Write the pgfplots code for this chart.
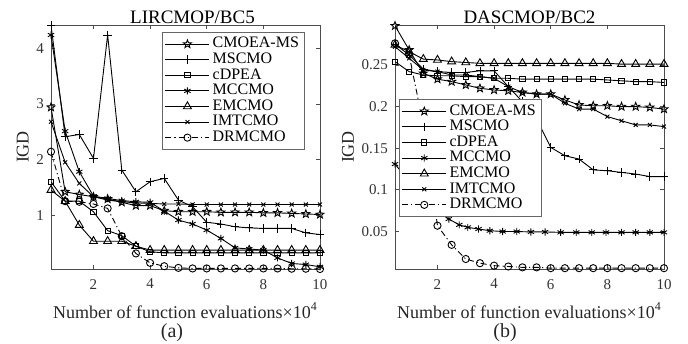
\documentclass[border=0pt]{standalone}
\usepackage{fontspec}
\setmainfont{Liberation Serif}
\usepackage{pgfplots}
\pgfplotsset{compat=1.18}
\usetikzlibrary{plotmarks}

\pgfdeclareplotmark{pentagram}{%
  \pgfpathmoveto{\pgfpointpolar{90}{\pgfplotmarksize}}%
  \pgfpathlineto{\pgfpointpolar{126}{0.42\pgfplotmarksize}}%
  \pgfpathlineto{\pgfpointpolar{162}{\pgfplotmarksize}}%
  \pgfpathlineto{\pgfpointpolar{198}{0.42\pgfplotmarksize}}%
  \pgfpathlineto{\pgfpointpolar{234}{\pgfplotmarksize}}%
  \pgfpathlineto{\pgfpointpolar{270}{0.42\pgfplotmarksize}}%
  \pgfpathlineto{\pgfpointpolar{306}{\pgfplotmarksize}}%
  \pgfpathlineto{\pgfpointpolar{342}{0.42\pgfplotmarksize}}%
  \pgfpathlineto{\pgfpointpolar{18}{\pgfplotmarksize}}%
  \pgfpathlineto{\pgfpointpolar{54}{0.42\pgfplotmarksize}}%
  \pgfpathclose\pgfusepathqstroke}

\pgfplotsset{
  common/.style={
    scale only axis, width=134.5pt, height=122pt,
    xmin=0.5, xmax=10, xtick={2,4,6,8,10},
    tick align=inside, tick pos=both, major tick length=2pt,
    axis line style={black!70, line width=0.4pt},
    tick style={black!70, line width=0.4pt},
    ticklabel style={font=\fontsize{7.5}{8}\selectfont, black!80},
    xticklabel style={yshift=-1.5pt},
    /pgf/number format/assume math mode=true,
    label style={font=\fontsize{9}{10}\selectfont, black!85},
    title style={font=\fontsize{9.5}{10}\selectfont, yshift=-9pt},
    xlabel={Number of function evaluations×10\textsuperscript{4}},
    ylabel={IGD},
    ylabel style={yshift=-3pt},
    legend cell align=left,
    legend style={font=\fontsize{8}{8}\selectfont, draw=black!60, fill=white,
      line width=0.4pt, inner sep=1.2pt, row sep=-1.8pt,
      nodes={inner sep=1.4pt}},
    legend image code/.code={\draw[mark repeat=2,mark phase=2] plot coordinates {(0pt,0pt)(11pt,0pt)(22pt,0pt)};},
  },
  pl/.style={black, line width=0.45pt, mark options={solid, black}},
  sCMOEA/.style={pl, mark=pentagram, mark size=2.1pt},
  sMSCMO/.style={pl, mark=+, mark size=2.1pt},
  scDPEA/.style={pl, mark=square, mark size=1.3pt},
  sMCCMO/.style={pl, mark=asterisk, mark size=1.8pt},
  sEMCMO/.style={pl, mark=triangle, mark size=2.3pt},
  sIMTCMO/.style={pl, mark=x, mark size=1.4pt},
  sDRMCMO/.style={pl, mark=o, mark size=1.8pt, dash pattern=on 3pt off 1.5pt on 0.6pt off 1.5pt},
}

\begin{document}
\begin{tikzpicture}
\useasboundingbox (0,0) rectangle (344pt,171.5pt);

% ---------------- (a) LIRCMOP/BC5 ----------------
\begin{axis}[common,
  at={(25.5pt,37pt)}, anchor=south west,
  ymin=0.03, ymax=4.42, ytick={1,2,3,4},
  title={LIRCMOP/BC5},
  title style={xshift=3.5pt},
  legend style={at={(0.9425,0.9725)}, anchor=north east},
]
\addplot[sCMOEA] coordinates {(0.5,2.94)(1,1.42)(1.5,1.37)(2,1.33)(2.5,1.29)(3,1.23)(3.5,1.17)(4,1.17)(4.5,1.08)(5,1.06)(5.5,1.06)(6,1.06)(6.5,1.05)(7,1.05)(7.5,1.05)(8,1.04)(8.5,1.04)(9,1.03)(9.5,1.02)(10,1.01)};
\addlegendentry{CMOEA-MS}
\addplot[sMSCMO] coordinates {(0.5,4.42)(1,2.41)(1.5,2.45)(2,2.02)(2.5,4.24)(3,1.81)(3.5,1.42)(4,1.60)(4.5,1.66)(5,1.27)(5.5,1.15)(6,0.87)(6.5,0.84)(7,0.79)(7.5,0.77)(8,0.76)(8.5,0.76)(9,0.76)(9.5,0.68)(10,0.65)};
\addlegendentry{MSCMO}
\addplot[scDPEA] coordinates {(0.5,1.60)(1,1.25)(1.5,1.25)(2,1.06)(2.5,0.72)(3,0.63)(3.5,0.44)(4,0.34)(4.5,0.32)(5,0.32)(5.5,0.32)(6,0.32)(6.5,0.32)(7,0.32)(7.5,0.32)(8,0.32)(8.5,0.32)(9,0.32)(9.5,0.32)(10,0.32)};
\addlegendentry{cDPEA}
\addplot[sMCCMO] coordinates {(0.5,4.24)(1,2.51)(1.5,1.78)(2,1.34)(2.5,1.30)(3,1.26)(3.5,1.24)(4,1.23)(4.5,1.07)(5,0.91)(5.5,0.84)(6,0.73)(6.5,0.58)(7,0.41)(7.5,0.39)(8,0.37)(8.5,0.23)(9,0.13)(9.5,0.11)(10,0.07)};
\addlegendentry{MCCMO}
\addplot[sEMCMO] coordinates {(0.5,1.45)(1,1.25)(1.5,0.82)(2,0.53)(2.5,0.53)(3,0.53)(3.5,0.44)(4,0.37)(4.5,0.37)(5,0.37)(5.5,0.37)(6,0.37)(6.5,0.37)(7,0.37)(7.5,0.37)(8,0.37)(8.5,0.37)(9,0.37)(9.5,0.37)(10,0.37)};
\addlegendentry{EMCMO}
\addplot[sIMTCMO] coordinates {(0.5,2.68)(1,1.95)(1.5,1.57)(2,1.33)(2.5,1.27)(3,1.24)(3.5,1.22)(4,1.21)(4.5,1.20)(5,1.20)(5.5,1.19)(6,1.19)(6.5,1.19)(7,1.19)(7.5,1.19)(8,1.19)(8.5,1.19)(9,1.19)(9.5,1.19)(10,1.19)};
\addlegendentry{IMTCMO}
\addplot[sDRMCMO] coordinates {(0.5,2.14)(1,1.25)(1.5,1.24)(2,1.20)(2.5,1.12)(3,0.62)(3.5,0.31)(4,0.14)(4.5,0.08)(5,0.05)(5.5,0.04)(6,0.04)(6.5,0.04)(7,0.04)(7.5,0.04)(8,0.04)(8.5,0.04)(9,0.035)(9.5,0.035)(10,0.03)};
\addlegendentry{DRMCMO}
\end{axis}

% ---------------- (b) DASCMOP/BC2 ----------------
\begin{axis}[common,
  at={(197.5pt,37pt)}, anchor=south west,
  ymin=0.005, ymax=0.298,
  ytick={0.05,0.1,0.15,0.2,0.25}, yticklabels={0.05,0.1,0.15,0.2,0.25},
  title={DASCMOP/BC2},
  legend style={at={(0.015,0.697)}, anchor=north west},
]
\addplot[sCMOEA] coordinates {(0.5,0.297)(1,0.268)(1.5,0.240)(2,0.233)(2.5,0.230)(3,0.226)(3.5,0.222)(4,0.220)(4.5,0.219)(5,0.217)(5.5,0.215)(6,0.215)(6.5,0.208)(7,0.202)(7.5,0.201)(8,0.201)(8.5,0.200)(9,0.200)(9.5,0.199)(10,0.197)};
\addlegendentry{CMOEA-MS}
\addplot[sMSCMO] coordinates {(0.5,0.275)(1,0.262)(1.5,0.245)(2,0.242)(2.5,0.241)(3,0.241)(3.5,0.243)(4,0.243)(4.5,0.224)(5,0.206)(5.5,0.185)(6,0.151)(6.5,0.141)(7,0.137)(7.5,0.124)(8,0.123)(8.5,0.121)(9,0.119)(9.5,0.116)(10,0.116)};
\addlegendentry{MSCMO}
\addplot[scDPEA] coordinates {(0.5,0.254)(1,0.242)(1.5,0.238)(2,0.237)(2.5,0.237)(3,0.236)(3.5,0.236)(4,0.234)(4.5,0.234)(5,0.233)(5.5,0.233)(6,0.233)(6.5,0.233)(7,0.233)(7.5,0.233)(8,0.232)(8.5,0.231)(9,0.230)(9.5,0.230)(10,0.229)};
\addlegendentry{cDPEA}
\addplot[sMCCMO] coordinates {(0.5,0.131)(1,0.11)(1.5,0.09)(2,0.075)(2.4,0.065)(2.77,0.058)(3.07,0.055)(3.45,0.053)(3.85,0.051)(4.3,0.050)(4.8,0.050)(5.3,0.0495)(5.8,0.0495)(6.35,0.049)(6.9,0.049)(7.45,0.049)(7.95,0.049)(8.5,0.049)(9,0.049)(9.5,0.049)(10,0.049)};
\addlegendentry{MCCMO}
\addplot[sEMCMO] coordinates {(0.5,0.274)(1,0.266)(1.5,0.257)(2,0.256)(2.5,0.254)(3,0.253)(3.5,0.252)(4,0.252)(4.5,0.252)(5,0.252)(5.5,0.252)(6,0.252)(6.5,0.252)(7,0.252)(7.5,0.252)(8,0.252)(8.5,0.251)(9,0.251)(9.5,0.251)(10,0.251)};
\addlegendentry{EMCMO}
\addplot[sIMTCMO] coordinates {(0.5,0.272)(1,0.258)(1.5,0.244)(2,0.242)(2.5,0.238)(3,0.238)(3.5,0.236)(4,0.234)(4.5,0.224)(5,0.217)(5.5,0.215)(6,0.215)(6.5,0.204)(7,0.197)(7.5,0.197)(8,0.188)(8.5,0.183)(9,0.178)(9.5,0.178)(10,0.176)};
\addlegendentry{IMTCMO}
\addplot[sDRMCMO] coordinates {(0.5,0.276)(1,0.262)(1.5,0.178)(2,0.057)(2.5,0.034)(3,0.017)(3.5,0.012)(4,0.009)(4.5,0.008)(5,0.007)(5.5,0.007)(6,0.006)(6.5,0.006)(7,0.006)(7.5,0.006)(8,0.006)(8.5,0.006)(9,0.006)(9.5,0.006)(10,0.006)};
\addlegendentry{DRMCMO}
\end{axis}

\node[anchor=base, font=\fontsize{10}{11}\selectfont, black!85] at (86pt,3pt) {(a)};
\node[anchor=base, font=\fontsize{10}{11}\selectfont, black!85] at (252.5pt,3pt) {(b)};
\end{tikzpicture}
\end{document}
